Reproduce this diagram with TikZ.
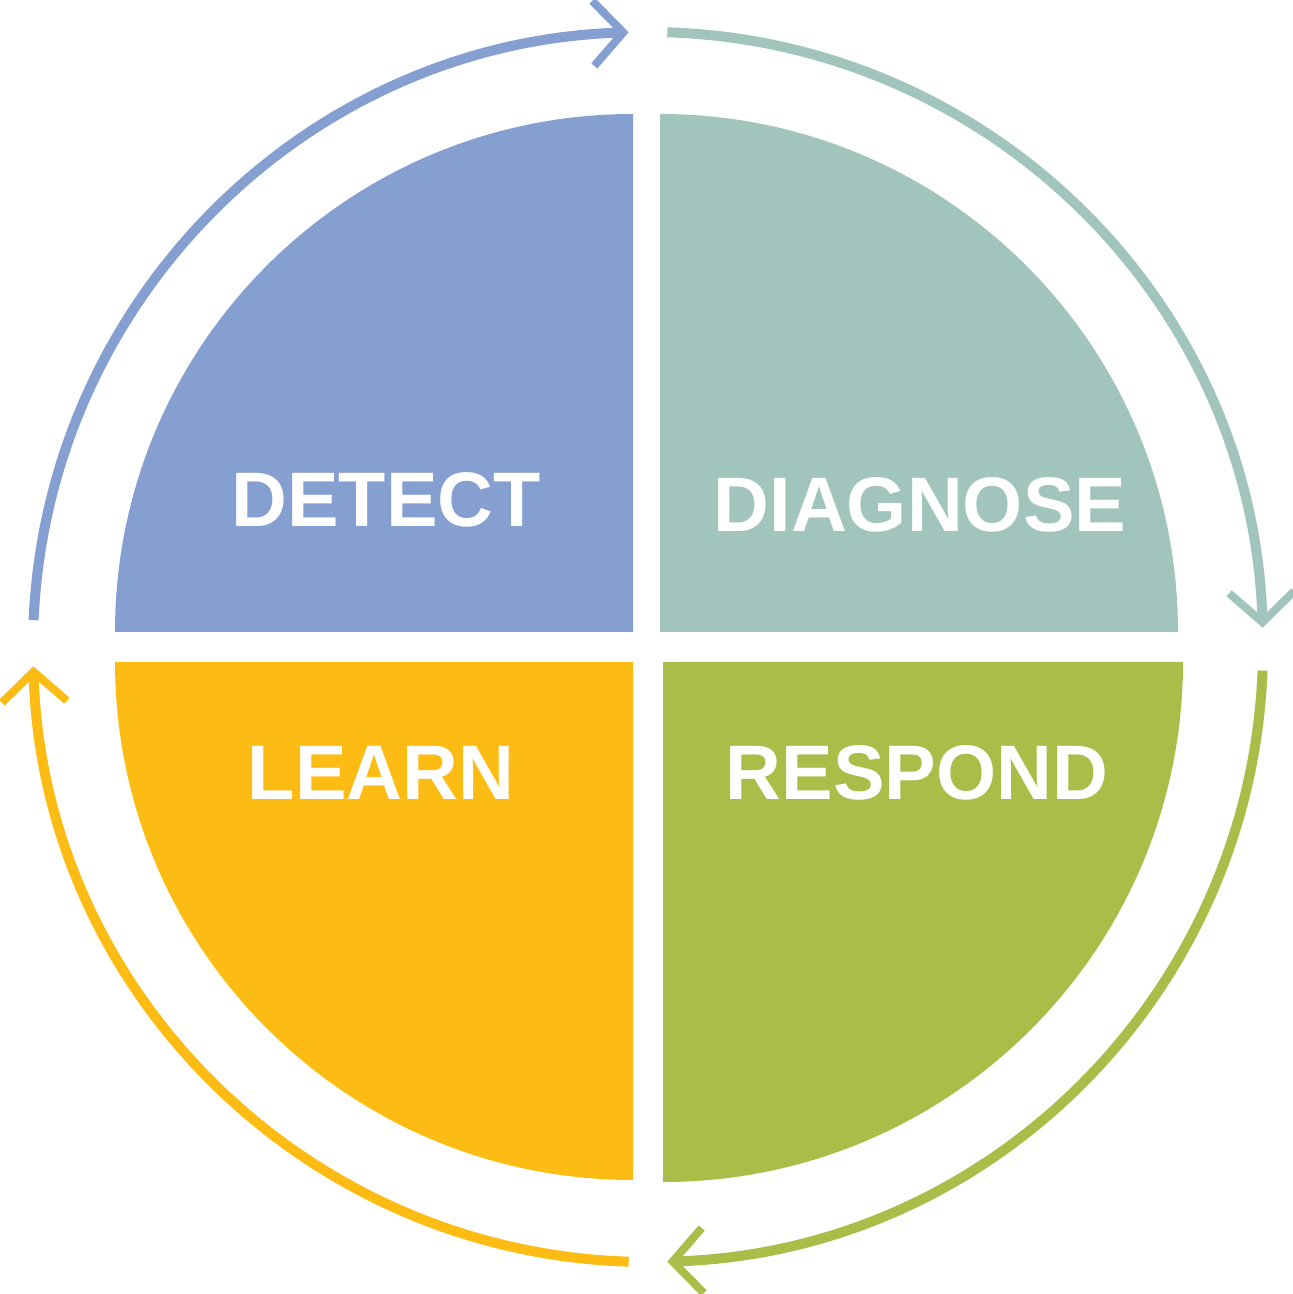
\documentclass[tikz,border=0pt]{standalone}
\usepackage{fontspec}
\setmainfont{Liberation Sans}
\usetikzlibrary{arrows.meta}
\definecolor{detectblue}{HTML}{849FD0}
\definecolor{diagnosegreen}{HTML}{A1C4BD}
\definecolor{learnyellow}{HTML}{FDBC13}
\definecolor{respondgreen}{HTML}{A8BE48}

\begin{document}
\begin{tikzpicture}[
  x=0.02cm, y=0.02cm,
  label/.style={text=white, font=\fontsize{44}{50}\selectfont\bfseries},
  ring/.style={line width=0.2cm, -{Straight Barb[length=0.6cm,width=1.3cm,line width=0.16cm]}}
]
\useasboundingbox (0,0) rectangle (1293,1294);

% Quadrants
\fill[detectblue] (633,662) -- ++(-518,0) arc[start angle=180,end angle=90,radius=518] -- cycle;
\fill[diagnosegreen] (660,662) -- ++(0,518) arc[start angle=90,end angle=0,radius=518] -- cycle;
\fill[respondgreen] (663,632) -- ++(520,0) arc[start angle=0,end angle=-90,radius=520] -- cycle;
\fill[learnyellow] (633,632) -- ++(0,-518) arc[start angle=-90,end angle=-180,radius=518] -- cycle;

% Labels
\node[label] (detect) at (386,794) {DETECT};
\node[label] (diagnose) at (920,789) {DIAGNOSE};
\node[label] (respond) at (917,521) {RESPOND};
\node[label] (learn) at (381,521) {LEARN};

% Cycle arcs
\coordinate (c) at (648,647);
\draw[ring, detectblue] (c) ++(177.5:615) arc[start angle=177.5,end angle=91.8,radius=615];
\draw[ring, diagnosegreen] (c) ++(88.2:615) arc[start angle=88.2,end angle=1.8,radius=615];
\draw[ring, respondgreen] (c) ++(-2.2:615) arc[start angle=-2.2,end angle=-88.2,radius=615];
\draw[ring, learnyellow] (c) ++(-91.8:615) arc[start angle=-91.8,end angle=-178.2,radius=615];
\end{tikzpicture}
\end{document}
